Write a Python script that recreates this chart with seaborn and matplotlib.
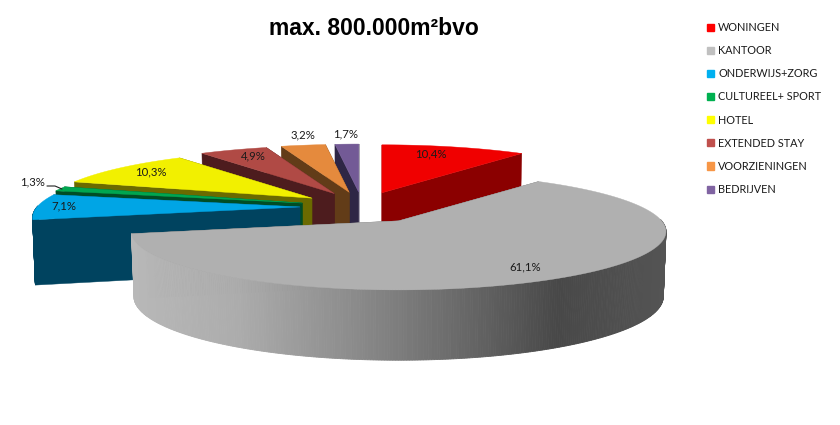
import numpy as np
import matplotlib
matplotlib.use("Agg")
import matplotlib.pyplot as plt
from matplotlib.patches import Patch
import seaborn as sns

# Data
categories = ["WONINGEN", "KANTOOR", "ONDERWIJS+ZORG", "CULTUREEL+ SPORT",
              "HOTEL", "EXTENDED STAY", "VOORZIENINGEN", "BEDRIJVEN"]
shares = [10.4, 61.1, 7.1, 1.3, 10.3, 4.9, 3.2, 1.7]
top_colors = ["#f00000", "#b0b0b0", "#00a5e5", "#00a650",
              "#f2f000", "#b04a45", "#e58a3d", "#735a96"]
side_colors = ["#8b0000", "#6e6e6e", "#00435f", "#004d25",
               "#6b6a00", "#4d1c1e", "#623c18", "#2e2645"]
legend_colors = ["#ff0000", "#c0c0c0", "#00b0f0", "#00b050",
                 "#ffff00", "#c0504d", "#f79646", "#8064a2"]
label_pos = [(431, 154), (525, 267), (64, 206), (33, 182),
             (151, 172), (253, 156), (303, 135), (346, 134)]

# Pie geometry, all in pixels
CX, CY = 362, 207
EXPLODE = 62
EXPLODE_KANTOOR = 68
TILT = 0.242
RX, RY = 263, 56.6
PERSP = 0.18
DEPTH = 64

sns.set_theme(style="white")
plt.rcParams['font.family'] = ['Lato', 'DejaVu Sans']


def rim(apex, deg, bottom=False):
    th = np.radians(deg)
    s = 1 + PERSP * np.cos(th)
    x = apex[0] + RX * np.sin(th) / s
    y = apex[1] - RY * np.cos(th) / s
    if bottom:
        x = apex[0] + 0.99 * RX * np.sin(th) / s
        y = y + DEPTH / (1 + 0.09 * np.cos(th))
    return np.array(x), np.array(y)


def draw_slice(ax, start, end, top, side, explode=EXPLODE, gradient=None):
    mid = np.radians((start + end) / 2)
    apex = (CX + explode * np.sin(mid), CY - explode * TILT * np.cos(mid))
    low = (apex[0], apex[1] + DEPTH)
    degs = np.linspace(start, end, max(int(end - start) * 2, 4) + 1)

    # straight cut faces first
    for d in (start, end):
        x0, y0 = rim(apex, d)
        x1, y1 = rim(apex, d, bottom=True)
        ax.fill([apex[0], x0, x1, low[0]], [apex[1], y0, y1, low[1]],
                color=side, lw=0.3, zorder=2)

    # outer wall, only the part that faces the viewer
    for d0, d1 in zip(degs[:-1], degs[1:]):
        if np.cos(np.radians((d0 + d1) / 2)) > 0.02:
            continue
        xa, ya = rim(apex, d0)
        xb, yb = rim(apex, d1)
        xc, yc = rim(apex, d1, bottom=True)
        xd, yd = rim(apex, d0, bottom=True)
        color = side
        if gradient is not None:
            color = gradient(np.clip((xa - 131) / (667 - 131), 0, 1))
        ax.fill([xa, xb, xc, xd], [ya, yb, yc, yd], color=color, lw=0.6, zorder=2)

    xs, ys = rim(apex, degs)
    ax.fill(np.r_[apex[0], xs], np.r_[apex[1], ys], color=top, lw=0.3, zorder=2)


def plot_pie():
    fig = plt.figure(figsize=(8.4, 4.25), dpi=100)
    ax = fig.add_axes([0, 0, 1, 1])
    ax.set_xlim(0, 840)
    ax.set_ylim(425, 0)
    ax.axis("off")

    grey_wall = sns.blend_palette(["#b8b8b8", "#acacac", "#8e8e8e", "#6c6c6c",
                                   "#484848", "#545454"], as_cmap=True)

    edges = np.r_[0, np.cumsum(shares)] / np.sum(shares) * 360
    slices = list(range(len(shares)))
    # back to front
    slices.sort(key=lambda i: -np.cos(np.radians((edges[i] + edges[i + 1]) / 2)))
    for i in slices:
        if categories[i] == "KANTOOR":
            draw_slice(ax, edges[i], edges[i + 1], top_colors[i], side_colors[i],
                       explode=EXPLODE_KANTOOR, gradient=grey_wall)
        else:
            draw_slice(ax, edges[i], edges[i + 1], top_colors[i], side_colors[i])

    for value, pos in zip(shares, label_pos):
        ax.text(pos[0], pos[1], f"{value:.1f}%".replace(".", ","), fontsize=8.2,
                color="#1a1a1a", ha="center", va="center", zorder=3)
    ax.plot([47, 55, 62], [186, 186, 189], color="#222222", lw=0.8, zorder=3)

    ax.text(374, 28, "max. 800.000m²bvo", fontsize=16.5, fontweight="bold",
            family="Liberation Sans", color="black", ha="center", va="center")

    handles = [Patch(color=c, label=n) for c, n in zip(legend_colors, categories)]
    ax.legend(handles=handles, loc="upper left", bbox_to_anchor=(707, 22),
              bbox_transform=ax.transData, frameon=False, fontsize=7.8,
              handlelength=0.65, handleheight=0.65, handletextpad=0.38,
              labelspacing=1.12, borderpad=0, borderaxespad=0,
              labelcolor="#1a1a1a")

    fig.savefig("out.png", dpi=100, facecolor="white")


if __name__ == "__main__":
    plot_pie()
